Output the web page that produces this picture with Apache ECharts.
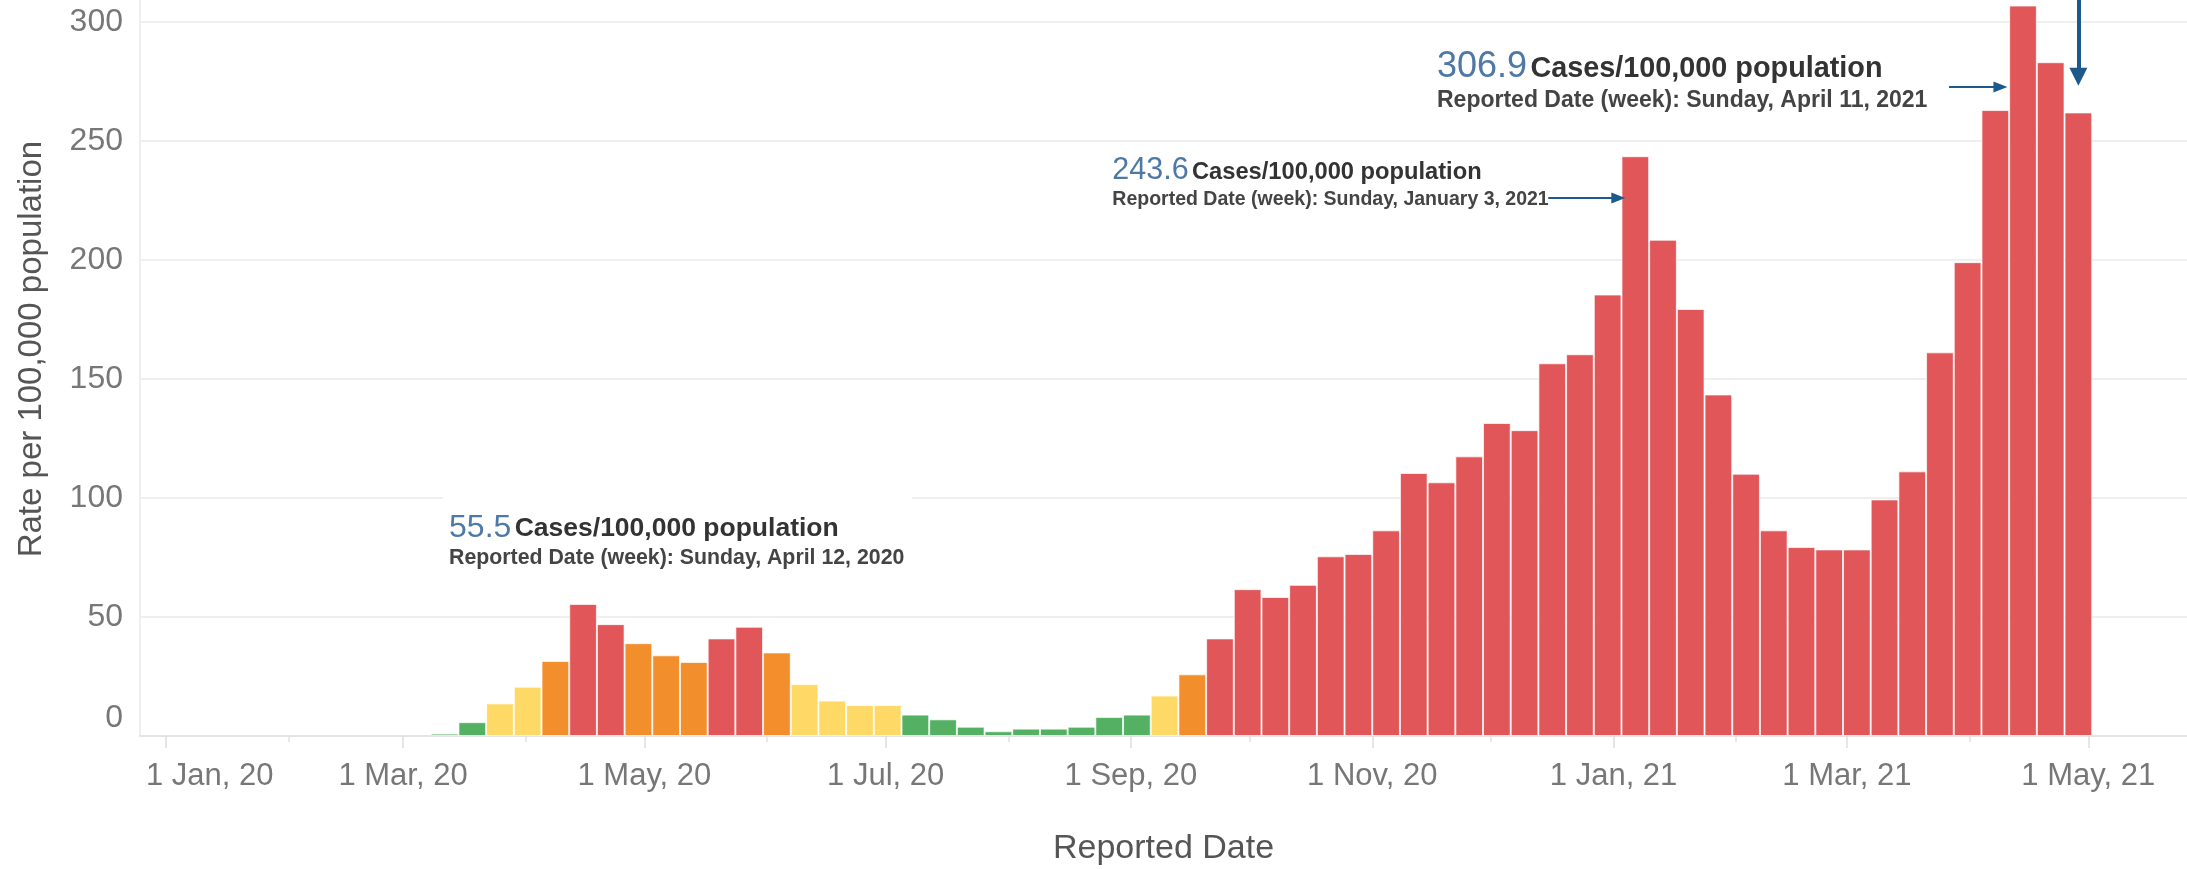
<!DOCTYPE html>
<html><head><meta charset="utf-8">
<script src="https://cdn.jsdelivr.net/npm/echarts@6/dist/echarts.min.js"></script>
<style>html,body{margin:0;padding:0;background:#fff}#c{width:2187px;height:869px}</style>
</head><body><div id="c"></div>
<script>
// ---- data ----
const weekStarts = [
 '2020-03-08','2020-03-15','2020-03-22','2020-03-29','2020-04-05','2020-04-12','2020-04-19','2020-04-26',
 '2020-05-03','2020-05-10','2020-05-17','2020-05-24','2020-05-31','2020-06-07','2020-06-14','2020-06-21',
 '2020-06-28','2020-07-05','2020-07-12','2020-07-19','2020-07-26','2020-08-02','2020-08-09','2020-08-16',
 '2020-08-23','2020-08-30','2020-09-06','2020-09-13','2020-09-20','2020-09-27','2020-10-04','2020-10-11',
 '2020-10-18','2020-10-25','2020-11-01','2020-11-08','2020-11-15','2020-11-22','2020-11-29','2020-12-06',
 '2020-12-13','2020-12-20','2020-12-27','2021-01-03','2021-01-10','2021-01-17','2021-01-24','2021-01-31',
 '2021-02-07','2021-02-14','2021-02-21','2021-02-28','2021-03-07','2021-03-14','2021-03-21','2021-03-28',
 '2021-04-04','2021-04-11','2021-04-18','2021-04-25'];
const rates = [
 1.0, 5.8, 13.7, 20.7, 31.5, 55.5, 47.0, 39.0,
 33.9, 31.1, 41.0, 45.9, 35.1, 21.8, 14.9, 13.0,
 13.0, 9.0, 7.0, 3.9, 2.0, 3.1, 3.1, 3.9,
 8.0, 9.0, 17.0, 25.9, 41.0, 61.7, 58.4, 63.5,
 75.5, 76.5, 86.4, 110.5, 106.6, 117.5, 131.5, 128.5,
 156.6, 160.4, 185.5, 243.6, 208.5, 179.4, 143.5, 110.2,
 86.4, 79.4, 78.4, 78.4, 99.4, 111.2, 161.2, 199.1,
 263.0, 306.9, 283.1, 262.0];
const levels = [
 'G','G','Y','Y','O','R','R','O',
 'O','O','R','R','O','Y','Y','Y',
 'Y','G','G','G','G','G','G','G',
 'G','G','Y','O','R','R','R','R',
 'R','R','R','R','R','R','R','R',
 'R','R','R','R','R','R','R','R',
 'R','R','R','R','R','R','R','R',
 'R','R','R','R'];
const levelColors = {G:'#54b062', Y:'#ffd966', O:'#f28e2b', R:'#e15759'};
const xLabelDates = ['2020-01-01','2020-03-01','2020-05-01','2020-07-01','2020-09-01','2020-11-01','2021-01-01','2021-03-01','2021-05-01'];
const xMinorTickDates = ['2020-02-01','2020-04-01','2020-06-01','2020-08-01','2020-10-01','2020-12-01','2021-02-01','2021-04-01'];
const monthShort = ['Jan','Feb','Mar','Apr','May','Jun','Jul','Aug','Sep','Oct','Nov','Dec'];
const monthLong = ['January','February','March','April','May','June','July','August','September','October','November','December'];
const annotations = [
 {week:'2020-04-12', value:55.5},
 {week:'2021-01-03', value:243.6},
 {week:'2021-04-11', value:306.9}
];

// ---- helpers ----
const DAY = 864e5;
const ts = s => Date.parse(s + 'T00:00:00Z');
const barCenter = s => ts(s) + 3.5 * DAY;
const FONT = '"Liberation Sans", Arial, sans-serif';
const BLUE = '#4e79a7';
const ARROW = '#1d5a8c';

const barData = weekStarts.map((w, i) => ({
  value: [barCenter(w), rates[i]],
  itemStyle: {color: levelColors[levels[i]]}
}));

function dateText(s) {
  const d = new Date(ts(s));
  return 'Sunday, ' + monthLong[d.getUTCMonth()] + ' ' + d.getUTCDate() + ', ' + d.getUTCFullYear();
}
function richSet(k, num, txt, sub, lh1, lh2) {
  const o = {};
  o['n' + k] = {fontFamily: FONT, fontSize: num, color: BLUE, lineHeight: lh1, verticalAlign: 'bottom'};
  o['c' + k] = {fontFamily: FONT, fontSize: txt, fontWeight: 'bold', color: '#333', lineHeight: lh1, verticalAlign: 'bottom', padding: [0, 0, 2, 0]};
  o['d' + k] = {fontFamily: FONT, fontSize: sub, fontWeight: 'bold', color: '#444', lineHeight: lh2};
  return o;
}
const annStyle = [
  {rich: richSet(0, 32, 26.5, 21.3, 36, 28), offset: [-140, -110], bg: '#fff', pad: [14, 8, 4, 6]},
  {rich: richSet(1, 30.5, 23.7, 19.5, 32, 26), offset: [-523, -2], bg: 'transparent', pad: 0},
  {rich: richSet(2, 36, 28.8, 23, 40, 30), offset: [-586, 40], bg: 'transparent', pad: 0}
];
const markPoints = annotations.map((a, k) => ({
  coord: [barCenter(a.week), a.value],
  symbolSize: 0,
  label: {
    show: true, position: 'inside', align: 'left', verticalAlign: 'top',
    offset: annStyle[k].offset, backgroundColor: annStyle[k].bg, padding: annStyle[k].pad,
    rich: annStyle[k].rich,
    formatter: '{n' + k + '|' + a.value.toFixed(1) + '} {c' + k + '|Cases/100,000 population}\n{d' + k + '|Reported Date (week): ' + dateText(a.week) + '}'
  }
}));

// arrows (data coordinates)
const arrows = [
  {from: [ts('2020-12-15') + 0.5 * DAY, 226], to: [ts('2021-01-02') + 0.2 * DAY, 226], width: 2, head: [11, 14]},
  {from: [ts('2021-03-26') + 0.8 * DAY, 272.7], to: [ts('2021-04-08') + 0.8 * DAY, 272.7], width: 2, head: [11, 14]},
  {from: [barCenter('2021-04-25'), 310], to: [barCenter('2021-04-25'), 277], width: 4, head: [18, 18]}
];
const markLines = arrows.map(a => [
  {coord: a.from, symbol: 'none', lineStyle: {color: ARROW, width: a.width, type: 'solid'}},
  {coord: a.to, symbol: 'triangle', symbolSize: a.head, lineStyle: {color: ARROW, width: a.width, type: 'solid'}}
]);

const xLabelTs = xLabelDates.map(ts);
const xMinorTs = xMinorTickDates.map(ts);
const axisMin = Date.parse('2019-12-25T12:00:00Z');
const axisMax = Date.parse('2021-05-25T23:00:00Z');

const chart = echarts.init(document.getElementById('c'), null, {renderer: 'canvas'});
chart.setOption({
  animation: false,
  backgroundColor: '#fff',
  grid: {left: 140, right: 0, top: -1.8, bottom: 133, containLabel: false, outerBoundsMode: 'none'},
  xAxis: [{
    type: 'value', min: axisMin, max: axisMax, scale: true,
    name: 'Reported Date', nameLocation: 'middle', nameGap: 96,
    nameTextStyle: {fontFamily: FONT, fontSize: 34, color: '#555'},
    axisLine: {show: true, lineStyle: {color: '#e4e4e4', width: 2}},
    axisTick: {show: true, customValues: xLabelTs, length: 12, lineStyle: {color: '#dedede', width: 1.5}},
    axisLabel: {
      customValues: xLabelTs, margin: 25, fontFamily: FONT, fontSize: 31, color: '#777',
      formatter: function (v) {
        const d = new Date(v);
        const s = '1 ' + monthShort[d.getUTCMonth()] + ', ' + String(d.getUTCFullYear()).slice(2);
        return v === xLabelTs[0] ? '{first|' + s + '}' : s;
      },
      rich: {first: {fontFamily: FONT, fontSize: 31, color: '#777', padding: [0, 0, 0, 88]}}
    },
    splitLine: {show: false}
  }, {
    type: 'value', min: axisMin, max: axisMax, scale: true, position: 'bottom',
    axisLine: {show: false},
    axisTick: {show: true, customValues: xMinorTs, length: 6, lineStyle: {color: '#e2e2e2', width: 1.5}},
    axisLabel: {show: false}, splitLine: {show: false}
  }],
  yAxis: {
    type: 'value', min: 0, max: 310, interval: 50,
    name: 'Rate per 100,000 population', nameLocation: 'middle', nameGap: 92,
    nameTextStyle: {fontFamily: FONT, fontSize: 33, color: '#555', padding: [0, 0, 0, 36]},
    axisLine: {show: true, lineStyle: {color: '#e8e8e8', width: 1.5}},
    axisTick: {show: false},
    axisLabel: {
      margin: 17, fontFamily: FONT, fontSize: 32, color: '#777', showMaxLabel: false,
      formatter: v => v === 0 ? '{z|0}' : String(v),
      rich: {z: {fontFamily: FONT, fontSize: 32, color: '#777', padding: [0, 0, 36, 0]}}
    },
    splitLine: {show: true, lineStyle: {color: '#efefef', width: 2}}
  },
  series: [{
    type: 'bar', xAxisIndex: 0, yAxisIndex: 0, data: barData,
    barWidth: '100%', clip: false, silent: true,
    itemStyle: {borderColor: 'rgba(255,255,255,0.7)', borderWidth: 1},
    markPoint: {silent: true, symbol: 'circle', symbolSize: 0, data: markPoints, animation: false},
    markLine: {silent: true, animation: false, label: {show: false}, symbol: ['none', 'triangle'], data: markLines}
  }]
});
</script></body></html>
